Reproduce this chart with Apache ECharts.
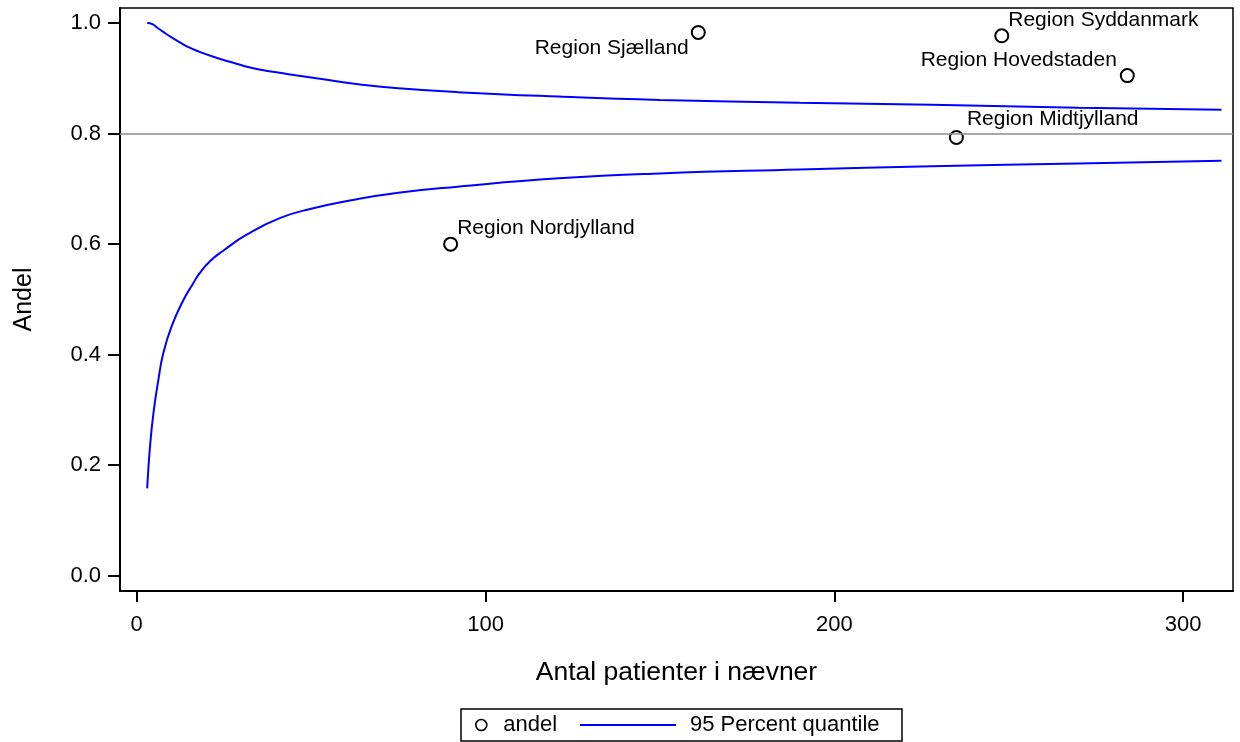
<!DOCTYPE html>
<html>
<head>
<meta charset="utf-8">
<script src="https://cdn.jsdelivr.net/npm/echarts@6/dist/echarts.min.js"></script>
<style>
html,body{margin:0;padding:0;background:#fff;}
#chart{width:1240px;height:742px;}
</style>
</head>
<body>
<div id="chart"></div>
<script>
// ---- data ----
const regions = ['Region Nordjylland', 'Region Sjælland', 'Region Midtjylland', 'Region Syddanmark', 'Region Hovedstaden'];
const nPatients = [90, 161, 235, 248, 284];
const andel = [0.600, 0.983, 0.793, 0.977, 0.905];

const upperN = [3, 4.5, 6, 7.6, 10, 12.4, 15, 17.2, 22, 26.7, 31, 36, 41, 46, 55, 64, 75, 92, 121, 150, 190, 228, 270, 311];
const upperV = [1.000, 0.998, 0.991, 0.984, 0.974, 0.965, 0.956, 0.950, 0.939, 0.930, 0.922, 0.915, 0.910, 0.905, 0.897, 0.889, 0.882, 0.875, 0.867, 0.861, 0.856, 0.852, 0.847, 0.843];

const lowerN = [3, 3.8, 4.8, 6.2, 7.6, 10, 13.4, 16, 18, 21, 25, 31.5, 41, 50, 62, 75, 92, 121, 150, 190, 228, 270, 311];
const lowerV = [0.158, 0.233, 0.294, 0.354, 0.402, 0.451, 0.499, 0.527, 0.547, 0.569, 0.589, 0.617, 0.647, 0.664, 0.680, 0.693, 0.704, 0.719, 0.728, 0.735, 0.741, 0.746, 0.751];

const targetLevel = 0.8;
const xTicks = [0, 100, 200, 300];
const yTicks = [0, 0.2, 0.4, 0.6, 0.8, 1.0];

const xTitle = 'Antal patienter i nævner';
const yTitle = 'Andel';
const scatterName = 'andel';
const lineName = '95 Percent quantile';

// ---- label placement (style, not data) ----
const labelPlacement = {
  'Region Nordjylland': { position: 'right', offset: [-1, -16] },
  'Region Sjælland': { position: 'left', offset: [-2, 16] },
  'Region Midtjylland': { position: 'right', offset: [3, -18] },
  'Region Syddanmark': { position: 'right', offset: [-1, -16] },
  'Region Hovedstaden': { position: 'left', offset: [-3, -15] }
};

const FONT = "'Liberation Sans', Arial, sans-serif";

const scatterData = regions.map((r, i) => ({
  name: r,
  value: [nPatients[i], andel[i]],
  label: Object.assign({ show: true, formatter: r, distance: 0 }, labelPlacement[r])
}));

const chart = echarts.init(document.getElementById('chart'), null, { renderer: 'canvas' });

const option = {
  backgroundColor: '#fff',
  animation: false,
  textStyle: { fontFamily: FONT },
  grid: {
    left: 120, right: 7, top: 8, bottom: 151,
    show: true, borderColor: '#000', borderWidth: 1.5, backgroundColor: 'transparent'
  },
  xAxis: {
    type: 'value',
    min: -4.79, max: 314.3,
    name: xTitle,
    nameLocation: 'middle',
    nameGap: 68,
    nameTextStyle: { fontSize: 26.5, color: '#000', fontFamily: FONT },
    axisLine: { show: true, onZero: false, lineStyle: { color: '#000', width: 2 } },
    axisTick: { show: true, length: 11, lineStyle: { color: '#000', width: 2 }, customValues: xTicks },
    axisLabel: { fontSize: 22, color: '#000', margin: 23, fontFamily: FONT, customValues: xTicks },
    splitLine: { show: false }
  },
  yAxis: {
    type: 'value',
    min: -0.0277, max: 1.0273,
    name: yTitle,
    nameLocation: 'middle',
    nameGap: 83,
    nameRotate: 90,
    nameTextStyle: { fontSize: 25, color: '#000', fontFamily: FONT },
    axisLine: { show: true, onZero: false, lineStyle: { color: '#000', width: 2 } },
    axisTick: { show: true, length: 12, lineStyle: { color: '#000', width: 2 }, customValues: yTicks },
    axisLabel: { fontSize: 22, color: '#000', margin: 19, fontFamily: FONT, customValues: yTicks,
      formatter: v => v.toFixed(1) },
    splitLine: { show: false }
  },
  legend: [
    {
      data: [{ name: scatterName, icon: 'circle', itemStyle: { color: '#fff', borderColor: '#000', borderWidth: 1.6 } }],
      left: 475, top: 712,
      itemWidth: 34, itemHeight: 11,
      padding: 0,
      selectedMode: false,
      textStyle: { fontSize: 22, color: '#000', fontFamily: FONT, lineHeight: 26 }
    },
    {
      data: [{ name: lineName, icon: 'rect', itemStyle: { color: '#0000ff' } }],
      left: 580, top: 712,
      itemWidth: 96, itemHeight: 2,
      padding: 0,
      selectedMode: false,
      textStyle: { fontSize: 22, color: '#000', fontFamily: FONT, lineHeight: 26, padding: [0, 0, 0, 9] }
    }
  ],
  graphic: [
    {
      type: 'rect',
      shape: { x: 461, y: 709, width: 441, height: 32 },
      style: { fill: 'none', stroke: '#000', lineWidth: 1.5 },
      silent: true
    }
  ],
  series: [
    {
      name: lineName,
      type: 'line',
      data: upperN.map((n, i) => [n, upperV[i]]),
      showSymbol: false,
      symbol: 'none',
      smooth: 0.5,
      lineStyle: { color: '#0000ff', width: 2 },
      itemStyle: { color: '#0000ff' },
      z: 3
    },
    {
      name: lineName,
      type: 'line',
      data: lowerN.map((n, i) => [n, lowerV[i]]),
      showSymbol: false,
      symbol: 'none',
      smooth: 0.5,
      lineStyle: { color: '#0000ff', width: 2 },
      itemStyle: { color: '#0000ff' },
      z: 3
    },
    {
      name: scatterName,
      type: 'scatter',
      data: scatterData,
      symbol: 'circle',
      symbolSize: 13,
      itemStyle: { color: '#fff', borderColor: '#000', borderWidth: 2, opacity: 1 },
      label: { color: '#000', fontSize: 21, fontFamily: FONT },
      z: 4,
      markLine: {
        silent: true,
        symbol: 'none',
        label: { show: false },
        lineStyle: { color: '#8c8c8c', width: 1.5, type: 'solid' },
        data: [{ yAxis: targetLevel }]
      }
    }
  ]
};

chart.setOption(option);
</script>
</body>
</html>
